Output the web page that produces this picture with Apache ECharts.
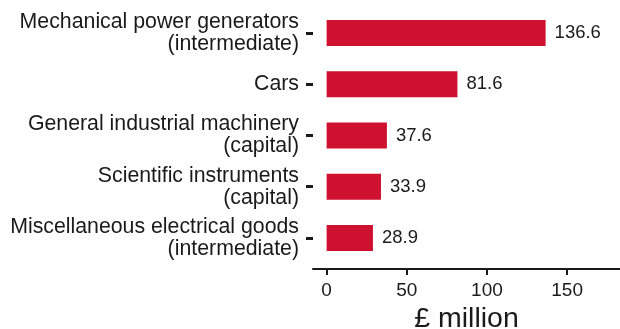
<!DOCTYPE html>
<html>
<head>
<meta charset="utf-8">
<script src="https://cdn.jsdelivr.net/npm/echarts@6/dist/echarts.min.js"></script>
<style>
  html, body { margin: 0; padding: 0; background: #fff; }
  #chart { width: 620px; height: 329px; }
</style>
</head>
<body>
<div id="chart"></div>
<script>
// Top five goods, value in £ million
const categories = [
  'Mechanical power generators\n(intermediate)',
  'Cars',
  'General industrial machinery\n(capital)',
  'Scientific instruments\n(capital)',
  'Miscellaneous electrical goods\n(intermediate)'
];
const values = [136.6, 81.6, 37.6, 33.9, 28.9];
const xTicks = [0, 50, 100, 150];

const FONT = '"Liberation Sans", Arial, sans-serif';
const INK = '#1a1a1a';

const chart = echarts.init(document.getElementById('chart'), null, { renderer: 'canvas' });
chart.setOption({
  animation: false,
  textStyle: { fontFamily: FONT },
  grid: { left: 313, right: 0, top: 7.5, bottom: 65.5, containLabel: false, outerBoundsMode: 'none' },
  xAxis: {
    type: 'value',
    min: -8.5,
    max: 183,
    offset: 5.5,
    customValues: xTicks,
    axisLine: { show: true, onZero: false, lineStyle: { color: INK, width: 2 } },
    axisTick: { show: true, customValues: xTicks, length: 6, lineStyle: { color: INK, width: 2 } },
    axisLabel: { customValues: xTicks, color: INK, fontSize: 19, margin: 12, fontFamily: FONT },
    splitLine: { show: false },
    name: '£ million',
    nameLocation: 'middle',
    nameGap: 33,
    nameTextStyle: { color: INK, fontSize: 28.5, fontFamily: FONT }
  },
  yAxis: {
    type: 'category',
    inverse: true,
    data: categories,
    axisLine: { show: false, onZero: false },
    axisTick: { show: true, alignWithLabel: true, length: 7, lineStyle: { color: INK, width: 3 } },
    axisLabel: { color: INK, fontSize: 21.3, lineHeight: 22, margin: 14, align: 'right', fontFamily: FONT },
    splitLine: { show: false }
  },
  series: [{
    type: 'bar',
    data: values,
    barWidth: 26,
    itemStyle: { color: '#cf1130' },
    label: {
      show: true,
      position: 'right',
      distance: 9,
      color: INK,
      fontSize: 18.5,
      fontFamily: FONT,
      formatter: p => p.value.toFixed(1)
    }
  }]
});
</script>
</body>
</html>
